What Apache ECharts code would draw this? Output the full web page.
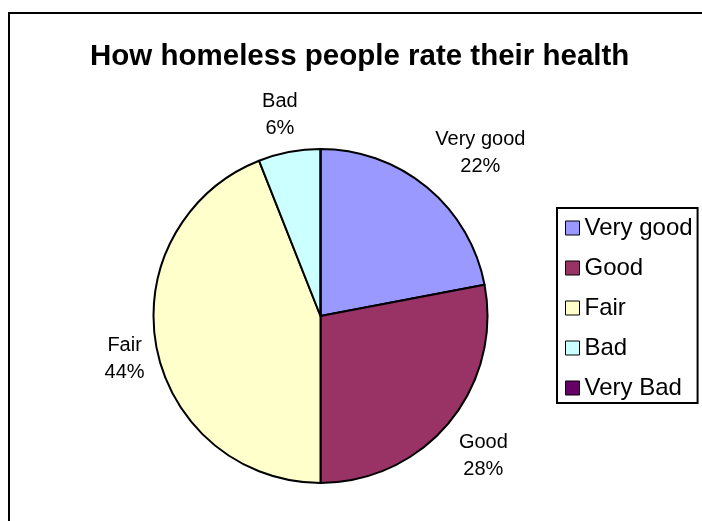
<!DOCTYPE html>
<html>
<head>
<meta charset="utf-8">
<script src="https://cdn.jsdelivr.net/npm/echarts@6/dist/echarts.min.js"></script>
<style>
html,body{margin:0;padding:0;background:#fff;}
#chart{width:702px;height:521px;}
</style>
</head>
<body>
<div id="chart"></div>
<script>
var titleText = 'How homeless people rate their health';
var categories = ['Very good', 'Good', 'Fair', 'Bad', 'Very Bad'];
var values = [22, 28, 44, 6, 0];
var colors = ['#9999FF', '#993366', '#FFFFCC', '#CCFFFF', '#660066'];

var FONT = '"Liberation Sans", Arial, sans-serif';
var LABEL_GAP = 10;      // distance of label anchor beyond pie edge
var LABEL_PAD = 2;       // horizontal padding of label box
var ANCHOR_K = 2;        // how quickly the anchor moves to box corners

var data = categories.map(function (c, i) {
  var item = { name: c, value: values[i], itemStyle: { color: colors[i] } };
  if (values[i] === 0) {
    item.label = { show: false };
    item.labelLine = { show: false };
  }
  return item;
});

function clamp1(v) { return Math.max(-1, Math.min(1, v)); }

var chart = echarts.init(document.getElementById('chart'));
chart.setOption({
  animation: false,
  backgroundColor: '#fff',
  graphic: [{
    type: 'rect', silent: true, z: -10,
    shape: { x: 9, y: 13, width: 720, height: 540 },
    style: { fill: '#fff', stroke: '#000', lineWidth: 2 }
  }],
  title: {
    text: titleText,
    left: 90,
    top: 42,
    padding: 0,
    textStyle: { fontFamily: FONT, fontSize: 29.5, fontWeight: 'bold', color: '#000' }
  },
  legend: {
    orient: 'vertical',
    left: 557,
    top: 208,
    padding: [8, 5, 3, 8],
    itemGap: 16,
    itemWidth: 14,
    itemHeight: 14,
    icon: 'rect',
    borderColor: '#000',
    borderWidth: 2,
    backgroundColor: '#fff',
    data: categories,
    itemStyle: { borderColor: '#000', borderWidth: 1 },
    textStyle: { fontFamily: FONT, fontSize: 24, lineHeight: 24, color: '#000' }
  },
  series: [{
    type: 'pie',
    center: [320.5, 316],
    radius: 167,
    startAngle: 90,
    clockwise: true,
    avoidLabelOverlap: false,
    data: data,
    itemStyle: { borderColor: '#000', borderWidth: 2 },
    emphasis: { disabled: true },
    label: {
      show: true,
      position: 'outside',
      fontFamily: FONT,
      fontSize: 20,
      lineHeight: 27,
      color: '#000',
      align: 'center',
      formatter: function (p) { return p.name + '\n' + Math.round(p.percent) + '%'; }
    },
    labelLine: {
      show: true,
      length: LABEL_GAP,
      length2: 0,
      lineStyle: { color: 'rgba(0,0,0,0)', opacity: 0 }
    },
    labelLayout: function (p) {
      var pts = p.labelLinePoints;
      if (!pts || pts.length < 2) return {};
      var dx = pts[1][0] - pts[0][0], dy = pts[1][1] - pts[0][1];
      var len = Math.sqrt(dx * dx + dy * dy) || 1;
      dx /= len; dy /= len;
      var w = p.labelRect.width + 2 * LABEL_PAD, h = p.labelRect.height;
      var ax = pts[0][0] + dx * LABEL_GAP, ay = pts[0][1] + dy * LABEL_GAP;
      return {
        x: ax + w / 2 * clamp1(ANCHOR_K * dx),
        y: ay + h / 2 * clamp1(ANCHOR_K * dy),
        align: 'center',
        verticalAlign: 'middle'
      };
    }
  }]
});
</script>
</body>
</html>
